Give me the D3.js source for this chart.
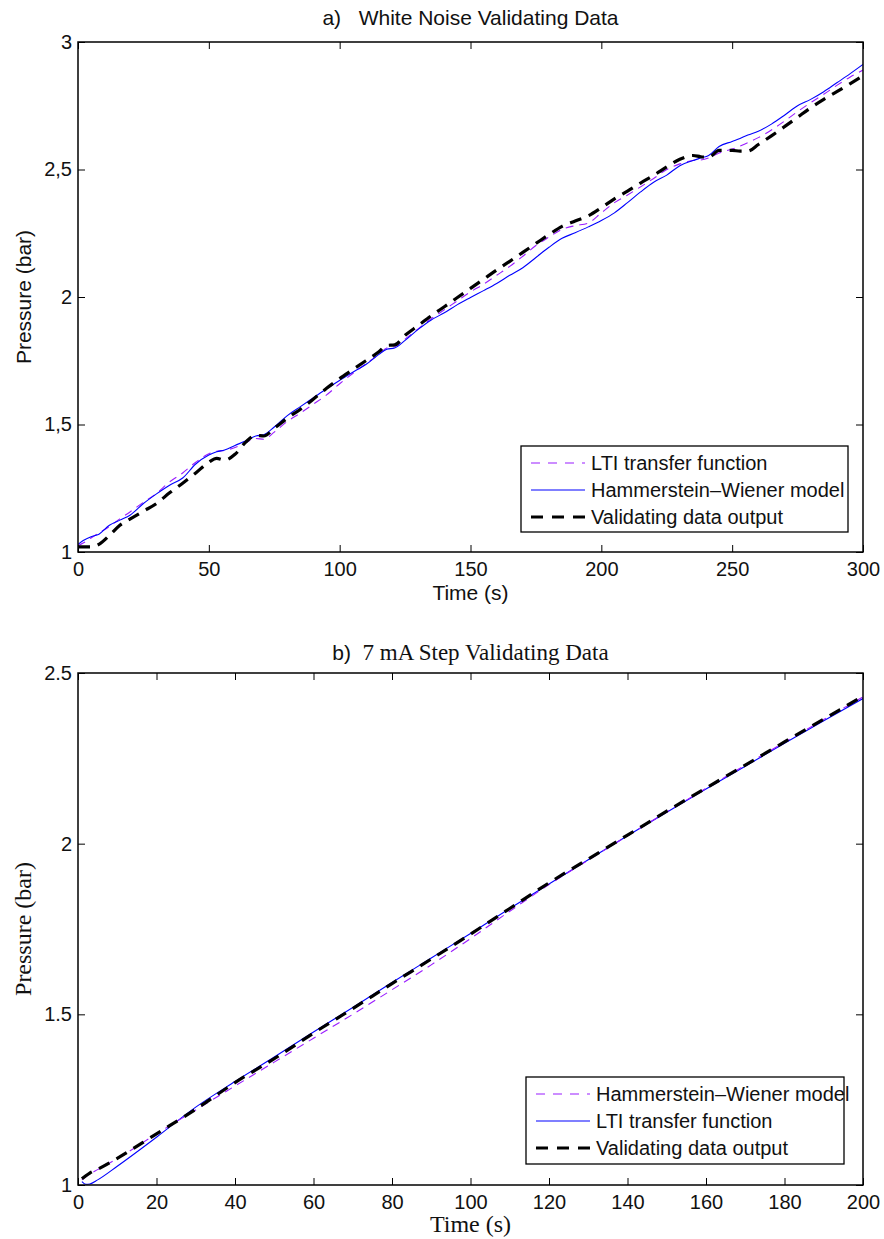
<!DOCTYPE html>
<html>
<head>
<meta charset="utf-8">
<script src="https://cdn.jsdelivr.net/npm/d3@7"></script>
<style>
  html, body { margin: 0; padding: 0; background: #fff; }
  svg { display: block; }
</style>
</head>
<body>
<svg id="chart" width="884" height="1239"></svg>
<script>
// ---------- DATA: panel a) White Noise Validating Data ----------
const topTime = [0,2,5,8,12,16,20,25,30,35,40,45,50,53,56,60,64,68,71,75,80,85,90,95,100,105,110,115,118,121,125,130,135,140,145,150,155,160,165,170,175,180,185,190,195,200,205,210,215,220,225,230,235,238,241,245,250,253,256,260,265,270,275,280,285,290,295,300];
const topLTI = [1.025,1.035,1.055,1.075,1.10,1.13,1.158,1.195,1.23,1.275,1.31,1.352,1.385,1.395,1.398,1.41,1.428,1.445,1.442,1.47,1.512,1.545,1.58,1.616,1.66,1.70,1.738,1.775,1.80,1.805,1.835,1.875,1.915,1.95,1.985,2.02,2.05,2.085,2.12,2.16,2.202,2.235,2.265,2.28,2.29,2.33,2.37,2.40,2.432,2.465,2.50,2.522,2.535,2.537,2.545,2.565,2.58,2.592,2.605,2.625,2.655,2.69,2.727,2.762,2.795,2.83,2.862,2.89];
const topHW = [1.03,1.045,1.06,1.07,1.105,1.125,1.145,1.19,1.228,1.262,1.29,1.345,1.38,1.393,1.40,1.418,1.435,1.455,1.46,1.49,1.535,1.57,1.605,1.64,1.673,1.705,1.735,1.775,1.795,1.80,1.83,1.873,1.91,1.938,1.97,1.998,2.025,2.053,2.085,2.115,2.155,2.195,2.23,2.252,2.275,2.30,2.33,2.37,2.412,2.45,2.478,2.515,2.535,2.545,2.555,2.59,2.61,2.622,2.635,2.65,2.678,2.713,2.75,2.775,2.805,2.84,2.875,2.912];
const topValid = [1.02,1.02,1.02,1.03,1.065,1.105,1.13,1.16,1.19,1.232,1.27,1.31,1.352,1.367,1.36,1.383,1.43,1.458,1.455,1.485,1.525,1.56,1.60,1.642,1.68,1.715,1.75,1.785,1.81,1.812,1.85,1.888,1.926,1.962,1.998,2.034,2.07,2.106,2.14,2.175,2.21,2.245,2.277,2.298,2.318,2.35,2.385,2.415,2.447,2.477,2.51,2.54,2.555,2.55,2.548,2.575,2.575,2.572,2.572,2.598,2.632,2.668,2.705,2.742,2.775,2.805,2.836,2.867];
const topXTicks = [0,50,100,150,200,250,300];
const topYTicks = [1,1.5,2,2.5,3];
const topLegend = ["LTI transfer function","Hammerstein\u2013Wiener model","Validating data output"];

// ---------- DATA: panel b) 7 mA Step Validating Data ----------
const botTime = [1,2,3,5,10,20,30,40,50,60,70,80,90,100,110,120,130,140,150,160,170,180,190,200];
const botHW = [1.015,1.024,1.032,1.045,1.077,1.15,1.22,1.29,1.36,1.43,1.50,1.572,1.645,1.722,1.802,1.88,1.952,2.023,2.093,2.162,2.23,2.297,2.364,2.43];
const botLTI = [1.01,1.002,1.003,1.015,1.055,1.14,1.228,1.303,1.375,1.448,1.52,1.593,1.665,1.737,1.81,1.882,1.953,2.023,2.092,2.16,2.227,2.294,2.36,2.425];
const botValid = [1.018,1.027,1.035,1.046,1.078,1.15,1.222,1.30,1.37,1.445,1.517,1.59,1.662,1.735,1.81,1.885,1.955,2.025,2.095,2.163,2.23,2.298,2.365,2.432];
const botXTicks = [0,20,40,60,80,100,120,140,160,180,200];
const botYTicks = [1,1.5,2,2.5];
const botLegend = ["Hammerstein\u2013Wiener model","LTI transfer function","Validating data output"];

// ---------- STYLES ----------
const SANS = "'Liberation Sans', Arial, Helvetica, sans-serif";
const SERIF = "'Liberation Serif', 'Times New Roman', serif";
const MAGENTA = "#9a1cff";
const BLUE = "#0000ff";
const styleMag = {stroke: MAGENTA, width: 1.1, dash: "8,6"};
const styleBlue = {stroke: BLUE, width: 1.1, dash: null};
const styleBlack = {stroke: "#000", width: 3.2, dash: "12,8"};

const svg = d3.select("#chart");

function panel(opt) {
  const x = d3.scaleLinear().domain(opt.xDomain).range([opt.left, opt.right]);
  const y = d3.scaleLinear().domain(opt.yDomain).range([opt.bottom, opt.top]);
  const g = svg.append("g");
  const clipId = "clip" + opt.id;
  svg.append("defs").append("clipPath").attr("id", clipId)
    .append("rect").attr("x", opt.left).attr("y", opt.top)
    .attr("width", opt.right - opt.left).attr("height", opt.bottom - opt.top);

  // series
  const lines = g.append("g").attr("clip-path", `url(#${clipId})`);
  opt.series.forEach(s => {
    const pts = opt.time.map((t, i) => [t, s.values[i]]);
    const line = d3.line().x(d => x(d[0])).y(d => y(d[1])).curve(d3.curveMonotoneX);
    lines.append("path").datum(pts)
      .attr("d", line)
      .attr("fill", "none")
      .attr("stroke", s.style.stroke)
      .attr("stroke-width", s.style.width)
      .attr("stroke-dasharray", s.style.dash)
      .attr("stroke-linejoin", "round");
  });

  // axes (ticks inward, all four sides)
  const tk = 7;
  const fmt = opt.fmt;
  const axB = g.append("g").attr("transform", `translate(0,${opt.bottom})`)
    .call(d3.axisBottom(x).tickValues(opt.xTicks).tickSize(-tk).tickPadding(10).tickFormat(d => d));
  const axT = g.append("g").attr("transform", `translate(0,${opt.top})`)
    .call(d3.axisTop(x).tickValues(opt.xTicks).tickSize(-tk).tickFormat(""));
  const axL = g.append("g").attr("transform", `translate(${opt.left},0)`)
    .call(d3.axisLeft(y).tickValues(opt.yTicks).tickSize(-tk).tickPadding(6).tickFormat(fmt));
  const axR = g.append("g").attr("transform", `translate(${opt.right},0)`)
    .call(d3.axisRight(y).tickValues(opt.yTicks).tickSize(-tk).tickFormat(""));
  [axB, axT, axL, axR].forEach(a => {
    a.select(".domain").remove();
    a.selectAll(".tick line").attr("stroke", "#000").attr("stroke-width", 1);
    a.selectAll("text").attr("font-family", SANS).attr("font-size", 20).attr("fill", "#111");
  });
  g.append("rect").attr("x", opt.left).attr("y", opt.top)
    .attr("width", opt.right - opt.left).attr("height", opt.bottom - opt.top)
    .attr("fill", "none").attr("stroke", "#000").attr("stroke-width", 1.5);

  // labels
  const labFont = opt.serif ? SERIF : SANS;
  const labSize = opt.serif ? 24 : 21;
  g.append("text").attr("x", (opt.left + opt.right) / 2).attr("y", opt.bottom + opt.xLabelDy)
    .attr("text-anchor", "middle").attr("font-family", labFont).attr("font-size", labSize)
    .attr("fill", "#111").text("Time (s)");
  g.append("text").attr("transform", `translate(${opt.yLabelX},${(opt.top + opt.bottom) / 2}) rotate(-90)`)
    .attr("text-anchor", "middle").attr("font-family", labFont).attr("font-size", labSize)
    .attr("fill", "#111").text("Pressure (bar)");

  // title
  const t = g.append("text").attr("x", (opt.left + opt.right) / 2).attr("y", opt.titleY)
    .attr("text-anchor", "middle").attr("fill", "#111");
  t.append("tspan").attr("font-family", SANS).attr("font-size", 21).text(opt.titlePrefix);
  t.append("tspan").attr("font-family", opt.serif ? SERIF : SANS)
    .attr("font-size", opt.serif ? 23 : 21).attr("xml:space", "preserve").text(opt.titleRest);

  // legend
  const L = opt.legend;
  g.append("rect").attr("x", L.x).attr("y", L.y).attr("width", L.w).attr("height", L.h)
    .attr("fill", "#fff").attr("stroke", "#000").attr("stroke-width", 1.3);
  opt.legendOrder.forEach((s, i) => {
    const cy = L.y + L.row0 + i * L.rowH;
    g.append("line").attr("x1", L.x + 10).attr("x2", L.x + 64).attr("y1", cy).attr("y2", cy)
      .attr("stroke", s.style.stroke).attr("stroke-width", s.style.width)
      .attr("stroke-dasharray", s.style.dash === "12,8" ? "12,9" : (s.style.dash ? "9,8" : null));
    g.append("text").attr("x", L.x + 70).attr("y", cy + 7)
      .attr("font-family", SANS).attr("font-size", 20).attr("fill", "#111").text(opt.legendText[i]);
  });
}

// panel a
const sA_LTI = {values: topLTI, style: styleMag};
const sA_HW = {values: topHW, style: styleBlue};
const sA_V = {values: topValid, style: styleBlack};
panel({
  id: "a", left: 78, right: 863, top: 42, bottom: 552,
  xDomain: [0, 300], yDomain: [1, 3], xTicks: topXTicks, yTicks: topYTicks,
  fmt: d => String(d).replace(".", ","),
  time: topTime, series: [sA_LTI, sA_HW, sA_V],
  legendOrder: [sA_LTI, sA_HW, sA_V], legendText: topLegend,
  legend: {x: 521, y: 446, w: 327, h: 86, row0: 17, rowH: 27},
  serif: false, xLabelDy: 48, yLabelX: 31, titleY: 25,
  titlePrefix: "a)", titleRest: "   White Noise Validating Data"
});

// panel b
const sB_HW = {values: botHW, style: styleMag};
const sB_LTI = {values: botLTI, style: styleBlue};
const sB_V = {values: botValid, style: styleBlack};
panel({
  id: "b", left: 78, right: 863, top: 673, bottom: 1185,
  xDomain: [0, 200], yDomain: [1, 2.5], xTicks: botXTicks, yTicks: botYTicks,
  fmt: d => String(d),
  time: botTime, series: [sB_LTI, sB_HW, sB_V],
  legendOrder: [sB_HW, sB_LTI, sB_V], legendText: botLegend,
  legend: {x: 526, y: 1077, w: 318, h: 87, row0: 17, rowH: 27},
  serif: true, xLabelDy: 47, yLabelX: 31, titleY: 660,
  titlePrefix: "b)", titleRest: "  7 mA Step Validating Data"
});
</script>
</body>
</html>
